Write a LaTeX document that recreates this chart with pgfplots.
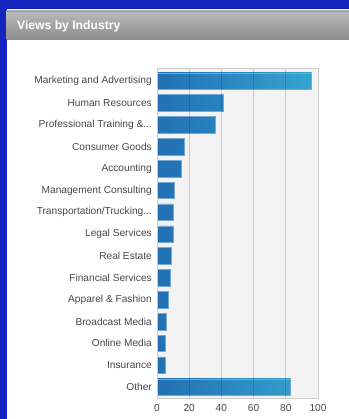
\documentclass[border=0pt]{standalone}
\usepackage{fontspec}
\setmainfont{Liberation Sans}
\usepackage{pgfplots}
\pgfplotsset{compat=1.18}

\definecolor{frameblue}{RGB}{20,36,190}
\definecolor{headA}{RGB}{186,186,186}
\definecolor{headB}{RGB}{141,141,141}
\definecolor{headline}{RGB}{150,150,150}
\definecolor{barA}{RGB}{33,112,180}
\definecolor{barB}{RGB}{55,166,208}
\definecolor{baredge}{RGB}{118,168,214}
\definecolor{plotbg}{RGB}{243,243,243}
\definecolor{framegray}{RGB}{205,205,205}
\definecolor{labelgray}{RGB}{72,72,72}

\newcommand{\dotsx}{.{}.{}.}

\begin{document}
\begin{tikzpicture}[x=1bp,y=1bp]
\useasboundingbox (0,0) rectangle (349,419);
% page frame and header strip
\fill[white] (0,0) rectangle (349,419);
\fill[frameblue] (0,0) rectangle (6.5,419);
\fill[frameblue] (0,409.5) rectangle (349,419);
\fill[white!90!gray] (6.5,408.3) rectangle (349,409.5);
\shade[top color=headA, bottom color=headB] (6.5,379) rectangle (349,408.3);
\fill[headline] (6.5,406.6) rectangle (349,408.3);
\node[anchor=base west, inner sep=0pt, text=gray!70, font=\bfseries\fontsize{12.2}{14}\selectfont] at (17.5,388.5) {Views by Industry};
\node[anchor=base west, inner sep=0pt, text=white, font=\bfseries\fontsize{12.2}{14}\selectfont] at (17,389) {Views by Industry};

\begin{axis}[
  at={(157bp,21bp)}, anchor=south west,
  scale only axis, width=161bp, height=330bp,
  xmin=0, xmax=100, ymin=-0.5, ymax=14.6,
  xtick={0,20,40,60,80,100}, ytick={0,1,2,3,4,5,6,7,8,9,10,11,12,13,14},
  yticklabels={{Other}, {Insurance}, {Online Media}, {Broadcast Media},
    {Apparel \& Fashion}, {Financial Services}, {Real Estate}, {Legal Services},
    {Transportation/Trucking\dotsx}, {Management Consulting}, {Accounting},
    {Consumer Goods}, {Professional Training \&\dotsx}, {Human Resources},
    {Marketing and Advertising}},
  /pgf/number format/assume math mode=true,
  major tick length=0pt,
  xmajorgrids, ymajorgrids=false,
  grid style={black, opacity=0.16, line width=0.9bp},
  axis line style={draw=framegray, line width=0.8bp},
  axis background/.style={fill=plotbg},
  axis on top,
  yticklabel style={font=\fontsize{10.2}{12}\selectfont, text=labelgray, inner sep=0pt, xshift=-5bp},
  xticklabel style={font=\fontsize{10.2}{12}\selectfont, text=labelgray, inner sep=0pt, yshift=-6bp},
  xbar, bar width=0.76, bar shift=0pt,
  every axis plot/.append style={draw=baredge, line width=0.5bp, left color=barA},
]
% short bars
\addplot[right color=barB!12!barA] coordinates {
  (5,1) (5,2) (6,3) (7,4) (8,5) (9,6) (10,7) (10,8) (11,9) (15,10) (17,11)};
% mid-length bars
\addplot[right color=barB!38!barA] coordinates {(36,12) (41,13)};
% long bars
\addplot[right color=barB!83!barA] coordinates {(83,0)};
\addplot[right color=barB!96!barA] coordinates {(96,14)};
\end{axis}
\end{tikzpicture}
\end{document}
